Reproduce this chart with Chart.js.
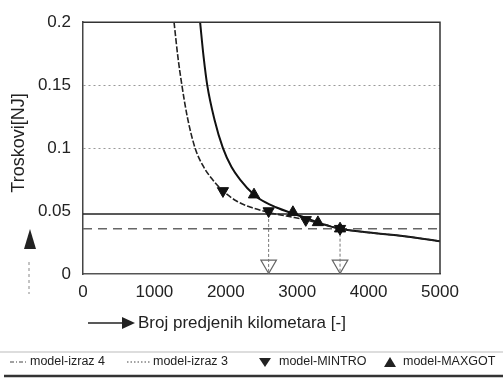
<!DOCTYPE html>
<html>
<head>
<meta charset="utf-8">
<script src="https://cdn.jsdelivr.net/npm/chart.js"></script>
<style>
  html, body { margin: 0; padding: 0; background: #fff; }
  #grafico { display: block; }
</style>
</head>
<body>
<canvas id="grafico" width="503" height="380"></canvas>
<script>
// podaci ocitani sa slike
var xTicks = [0, 1000, 2000, 3000, 4000, 5000];
var xTickLabels = ['0', '1000', '2000', '3000', '4000', '5000'];
var yTicks = [0, 0.05, 0.1, 0.15, 0.2];
var yTickLabels = ['0', '0.05', '0.1', '0.15', '0.2'];

var izraz4X = [1275, 1330, 1385, 1460, 1570, 1680, 1800, 1960, 2150, 2350, 2600, 2850, 3120, 3400, 3600, 4000, 4500, 5000];
var izraz4Y = [0.2, 0.172, 0.15, 0.125, 0.1, 0.086, 0.076, 0.066, 0.058, 0.053, 0.049, 0.046, 0.043, 0.039, 0.036, 0.033, 0.030, 0.026];

var izraz3X = [1640, 1690, 1740, 1840, 1960, 2080, 2200, 2395, 2550, 2700, 2940, 3100, 3290, 3450, 3600, 4000, 4500, 5000];
var izraz3Y = [0.2, 0.172, 0.15, 0.123, 0.1, 0.085, 0.075, 0.063, 0.057, 0.053, 0.048, 0.045, 0.041, 0.038, 0.036, 0.033, 0.030, 0.026];

var mintroX = [1960, 2600, 3120, 3600];
var mintroY = [0.066, 0.05, 0.043, 0.036];

var maxgotX = [2395, 2940, 3290, 3600];
var maxgotY = [0.063, 0.049, 0.041, 0.036];

var granicaPuna = 0.0477;
var granicaIsprekidana = 0.036;

var strelicaX = [2600, 3600];
var strelicaVrh = [0.0477, 0.036];
var strelicaGlava = 0.0075;

var legendaTekst = ['model-izraz 4', 'model-izraz 3', 'model-MINTRO', 'model-MAXGOT'];

function spoji(xs, ys) {
    var out = [];
    for (var i = 0; i < xs.length; i++) {
        out.push({ x: xs[i], y: ys[i] });
    }
    return out;
}

var datasets = [];

datasets.push({
    label: legendaTekst[2],
    data: spoji(mintroX, mintroY),
    showLine: false,
    pointStyle: 'triangle',
    rotation: 180,
    pointRadius: 6.5,
    backgroundColor: '#111',
    borderColor: '#111'
});
datasets.push({
    label: legendaTekst[3],
    data: spoji(maxgotX, maxgotY),
    showLine: false,
    pointStyle: 'triangle',
    pointRadius: 6.5,
    backgroundColor: '#111',
    borderColor: '#111'
});
datasets.push({
    label: legendaTekst[0],
    data: spoji(izraz4X, izraz4Y),
    showLine: true,
    borderColor: '#222',
    borderWidth: 1.6,
    borderDash: [6, 2],
    pointRadius: 0,
    cubicInterpolationMode: 'monotone'
});
datasets.push({
    label: legendaTekst[1],
    data: spoji(izraz3X, izraz3Y),
    showLine: true,
    borderColor: '#111',
    borderWidth: 2,
    pointRadius: 0,
    cubicInterpolationMode: 'monotone'
});
datasets.push({
    data: [{ x: 0, y: granicaPuna }, { x: 5000, y: granicaPuna }],
    showLine: true,
    borderColor: '#222',
    borderWidth: 1.6,
    pointRadius: 0
});
datasets.push({
    data: [{ x: 0, y: granicaIsprekidana }, { x: 5000, y: granicaIsprekidana }],
    showLine: true,
    borderColor: '#666',
    borderWidth: 1.4,
    borderDash: [9, 6],
    pointRadius: 0
});
for (var k = 0; k < strelicaX.length; k++) {
    datasets.push({
        data: [{ x: strelicaX[k], y: strelicaVrh[k] }, { x: strelicaX[k], y: 0 }],
        showLine: true,
        borderColor: '#777',
        borderWidth: 1,
        borderDash: [3, 2],
        pointRadius: 0
    });
}
datasets.push({
    data: spoji(strelicaX, [strelicaGlava, strelicaGlava]),
    showLine: false,
    pointStyle: 'triangle',
    rotation: 180,
    pointRadius: 9,
    backgroundColor: '#fff',
    borderColor: '#666',
    borderWidth: 1.2
});

var ukras = {
    id: 'ukras',
    afterDraw: function (chart) {
        var c = chart.ctx;
        var a = chart.chartArea;
        c.save();
        // okvir gore i desno
        c.strokeStyle = '#333';
        c.lineWidth = 1.5;
        c.beginPath();
        c.moveTo(a.left, a.top);
        c.lineTo(a.right, a.top);
        c.lineTo(a.right, a.bottom);
        c.stroke();

        c.fillStyle = '#222';
        c.font = '18px "Liberation Sans", Arial, sans-serif';
        // naslov y ose
        c.save();
        c.translate(19, 143);
        c.rotate(-Math.PI / 2);
        c.textAlign = 'center';
        c.textBaseline = 'middle';
        c.fillText('Troskovi[NJ]', 0, 0);
        c.restore();
        // strelica y ose
        c.beginPath();
        c.moveTo(30, 229);
        c.lineTo(36, 249);
        c.lineTo(24, 249);
        c.closePath();
        c.fill();
        c.strokeStyle = '#888';
        c.lineWidth = 1;
        c.setLineDash([3, 3]);
        c.beginPath();
        c.moveTo(29, 262);
        c.lineTo(29, 294);
        c.stroke();
        c.setLineDash([]);

        // naslov x ose
        c.strokeStyle = '#222';
        c.lineWidth = 1.3;
        c.beginPath();
        c.moveTo(88, 323);
        c.lineTo(122, 323);
        c.stroke();
        c.beginPath();
        c.moveTo(122, 317);
        c.lineTo(135, 323);
        c.lineTo(122, 329);
        c.closePath();
        c.fill();
        c.font = '17px "Liberation Sans", Arial, sans-serif';
        c.textAlign = 'left';
        c.textBaseline = 'middle';
        c.fillText('Broj predjenih kilometara [-]', 138, 323);

        // legenda
        var ly = 362;
        c.strokeStyle = '#bbb';
        c.lineWidth = 1;
        c.beginPath();
        c.moveTo(0, 352);
        c.lineTo(503, 352);
        c.stroke();
        c.strokeStyle = '#333';
        c.lineWidth = 2.5;
        c.beginPath();
        c.moveTo(4, 376);
        c.lineTo(503, 376);
        c.stroke();

        c.strokeStyle = '#444';
        c.lineWidth = 1;
        c.setLineDash([4, 2, 1, 2]);
        c.beginPath();
        c.moveTo(10, ly);
        c.lineTo(27, ly);
        c.stroke();
        c.setLineDash([1.5, 2]);
        c.beginPath();
        c.moveTo(127, ly);
        c.lineTo(150, ly);
        c.stroke();
        c.setLineDash([]);

        c.fillStyle = '#222';
        c.beginPath();
        c.moveTo(259, ly - 4);
        c.lineTo(271, ly - 4);
        c.lineTo(265, ly + 5);
        c.closePath();
        c.fill();
        c.beginPath();
        c.moveTo(384, ly + 5);
        c.lineTo(396, ly + 5);
        c.lineTo(390, ly - 5);
        c.closePath();
        c.fill();

        c.font = '12.5px "Liberation Sans", Arial, sans-serif';
        c.textBaseline = 'middle';
        c.fillText(legendaTekst[0], 30, ly);
        c.fillText(legendaTekst[1], 153, ly);
        c.fillText(legendaTekst[2], 279, ly);
        c.fillText(legendaTekst[3], 403, ly);
        c.restore();
    }
};

var ctx = document.getElementById('grafico');
var chart = new Chart(ctx, {
    type: 'scatter',
    data: { datasets: datasets },
    options: {
        responsive: false,
        animation: false,
        devicePixelRatio: 1,
        layout: { padding: { left: 0, right: 63, top: 18, bottom: 0 } },
        plugins: {
            legend: { display: false },
            tooltip: { enabled: false }
        },
        scales: {
            x: {
                type: 'linear',
                min: 0,
                max: 5000,
                afterFit: function (scale) { scale.height = 106; },
                afterBuildTicks: function (scale) {
                    scale.ticks = xTicks.map(function (v) { return { value: v }; });
                },
                ticks: {
                    color: '#222',
                    padding: 8,
                    maxRotation: 0,
                    font: { family: '"Liberation Sans", Arial, sans-serif', size: 17 },
                    callback: function (value) {
                        var i = xTicks.indexOf(value);
                        return i >= 0 ? xTickLabels[i] : '';
                    }
                },
                grid: { color: 'rgba(0,0,0,0)', drawTicks: false },
                border: { display: true, color: '#555', width: 1.5 }
            },
            y: {
                min: 0,
                max: 0.2,
                afterFit: function (scale) { scale.width = 83; },
                afterBuildTicks: function (scale) {
                    scale.ticks = yTicks.map(function (v) { return { value: v }; });
                },
                ticks: {
                    color: '#222',
                    padding: 12,
                    font: { family: '"Liberation Sans", Arial, sans-serif', size: 17 },
                    callback: function (value) {
                        var i = yTicks.indexOf(value);
                        return i >= 0 ? yTickLabels[i] : '';
                    }
                },
                grid: {
                    drawTicks: false,
                    lineWidth: 1,
                    color: function (context) {
                        var v = context.tick ? context.tick.value : null;
                        if (v === 0.1 || v === 0.15) {
                            return '#999';
                        }
                        return 'rgba(0,0,0,0)';
                    }
                },
                border: { display: true, color: '#444', width: 1.5, dash: [2, 3] }
            }
        }
    },
    plugins: [ukras]
});
</script>
</body>
</html>
